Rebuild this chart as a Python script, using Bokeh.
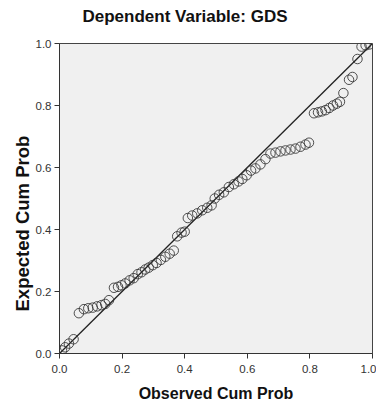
from bokeh.plotting import figure
from bokeh.models import Range1d, FixedTicker, Title, NumeralTickFormatter
from bokeh.embed import file_html
from bokeh.resources import INLINE

# Observed vs expected cumulative probabilities
observed = [0.008, 0.018, 0.030, 0.045,
            0.062, 0.078, 0.092, 0.106, 0.120, 0.134, 0.146, 0.158,
            0.174, 0.187, 0.198, 0.210, 0.224, 0.237, 0.250, 0.262, 0.274, 0.285,
            0.298, 0.310, 0.324, 0.338, 0.352, 0.365, 0.376, 0.390, 0.400,
            0.410, 0.424, 0.440, 0.456, 0.472, 0.486, 0.496, 0.510, 0.525, 0.541,
            0.557, 0.572, 0.584, 0.598, 0.612, 0.626, 0.642, 0.658, 0.674, 0.690,
            0.706, 0.722, 0.738, 0.754, 0.770, 0.786, 0.797,
            0.813, 0.826, 0.838, 0.850, 0.862, 0.874, 0.886, 0.896, 0.907,
            0.925, 0.936, 0.952, 0.965, 0.978, 0.990]
expected = [0.010, 0.020, 0.032, 0.046,
            0.130, 0.143, 0.146, 0.148, 0.152, 0.156, 0.160, 0.172,
            0.212, 0.215, 0.220, 0.226, 0.236, 0.243, 0.256, 0.262, 0.271, 0.277,
            0.285, 0.292, 0.302, 0.312, 0.322, 0.332, 0.378, 0.390, 0.393,
            0.437, 0.445, 0.452, 0.462, 0.470, 0.478, 0.500, 0.512, 0.520, 0.537,
            0.546, 0.555, 0.563, 0.575, 0.590, 0.597, 0.610, 0.627, 0.645, 0.648,
            0.652, 0.655, 0.658, 0.661, 0.667, 0.674, 0.680,
            0.775, 0.778, 0.781, 0.785, 0.792, 0.800, 0.806, 0.812, 0.840,
            0.883, 0.892, 0.950, 0.990, 0.994, 0.997]
ref_line = [0.0, 1.0]
ticks = [0.0, 0.2, 0.4, 0.6, 0.8, 1.0]

title_text = "Dependent Variable: GDS"
x_label = "Observed Cum Prob"
y_label = "Expected Cum Prob"

FONT = "Liberation Sans"

p = figure(width=376, height=404, output_backend="svg", toolbar_location=None,
           x_range=Range1d(0, 1), y_range=Range1d(0, 1),
           min_border_left=59, min_border_right=4, min_border_top=43, min_border_bottom=50)
p.title = None
# spacer between frame and title
p.add_layout(Title(text=" ", text_font=FONT, text_font_size="10px", standoff=5), "above")
p.add_layout(Title(text=title_text, align="left", offset=23, text_font=FONT,
                   text_font_size="17px", text_font_style="bold", text_color="#111111",
                   standoff=0), "above")

p.background_fill_color = "#f0f0f0"
p.border_fill_color = "white"
p.outline_line_color = "#444444"
p.outline_line_width = 1
p.grid.visible = False

p.line(ref_line, ref_line, line_color="#222222", line_width=1.3)
p.scatter(observed, expected, marker="circle", size=9.5, fill_color=None,
          line_color="#333333", line_width=1, line_alpha=0.85)

for ax in (p.xaxis[0], p.yaxis[0]):
    ax.ticker = FixedTicker(ticks=ticks)
    ax.formatter = NumeralTickFormatter(format="0.0")
    ax.minor_tick_line_color = None
    ax.major_tick_out = 5
    ax.major_tick_in = 0
    ax.axis_line_color = "#333333"
    ax.major_tick_line_color = "#333333"
    ax.major_label_text_font = FONT
    ax.major_label_text_font_size = "11.5px"
    ax.major_label_text_color = "#333333"
    ax.axis_label_text_font = FONT
    ax.axis_label_text_font_size = "16px"
    ax.axis_label_text_font_style = "bold"
    ax.axis_label_text_color = "#111111"

p.xaxis[0].axis_label = x_label
p.xaxis[0].major_label_standoff = 6
p.xaxis[0].axis_label_standoff = 9
p.yaxis[0].major_label_standoff = 3
p.yaxis[0].axis_label = None
p.add_layout(Title(text=y_label, align="left", offset=42, text_font=FONT,
                   text_font_size="18.5px", text_font_style="bold", text_color="#111111",
                   standoff=0), "left")

open("out.html", "w").write(file_html(p, INLINE))
